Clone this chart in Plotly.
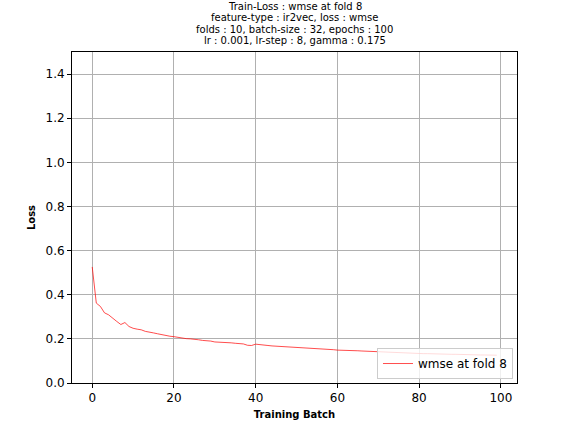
import plotly.graph_objects as go

batches = list(range(100))
loss = [
    0.526, 0.362, 0.347, 0.318, 0.309, 0.292, 0.279, 0.265, 0.274, 0.256,
    0.248, 0.244, 0.241, 0.234, 0.232, 0.227, 0.223, 0.219, 0.214, 0.212,
    0.210, 0.206, 0.203, 0.201, 0.200, 0.199, 0.196, 0.193, 0.192, 0.190,
    0.186, 0.185, 0.184, 0.186, 0.182, 0.180, 0.179, 0.177, 0.171, 0.170,
    0.176, 0.173, 0.171, 0.170, 0.168, 0.167, 0.167, 0.166, 0.165, 0.163,
    0.162, 0.161, 0.160, 0.159, 0.158, 0.157, 0.156, 0.155, 0.153, 0.151,
    0.149, 0.149, 0.148, 0.147, 0.146, 0.146, 0.145, 0.144, 0.143, 0.142,
    0.141, 0.141, 0.140, 0.139, 0.139, 0.137, 0.137, 0.136, 0.135, 0.134,
    0.134, 0.133, 0.133, 0.132, 0.132, 0.131, 0.131, 0.130, 0.130, 0.130,
    0.129, 0.129, 0.128, 0.128, 0.128, 0.127, 0.127, 0.127, 0.126, 0.126,
]
series_name = "wmse at fold 8"
title_lines = [
    "Train-Loss : wmse at fold 8",
    "feature-type : ir2vec, loss : wmse",
    "folds : 10, batch-size : 32, epochs : 100",
    "lr : 0.001, lr-step : 8, gamma : 0.175",
]
x_ticks = [0, 20, 40, 60, 80, 100]
y_ticks = [0.0, 0.2, 0.4, 0.6, 0.8, 1.0, 1.2, 1.4]

FONT = "DejaVu Sans"
W, H = 575, 431
ml, mr, mt, mb = 72, 58, 52, 48

fig = go.Figure()
fig.add_trace(go.Scatter(
    x=batches, y=loss, mode="lines", name=series_name,
    line=dict(color="red", width=0.7),
))

axis_common = dict(
    showline=True, linecolor="black", linewidth=1, mirror=True,
    ticks="outside", ticklen=4, tickwidth=1, tickcolor="black",
    showgrid=True, gridcolor="#b0b0b0", gridwidth=1, zeroline=False,
    tickfont=dict(family=FONT, size=12, color="black"),
)

fig.update_layout(
    width=W, height=H,
    margin=dict(l=ml, r=mr, t=mt, b=mb, autoexpand=False),
    paper_bgcolor="white", plot_bgcolor="white",
    font=dict(family=FONT, color="black"),
    showlegend=True,
    legend=dict(
        x=0.991, y=0.012, xanchor="right", yanchor="bottom",
        bgcolor="rgba(255,255,255,0.8)", bordercolor="#cccccc", borderwidth=1,
        font=dict(family=FONT, size=12, color="black"),
        itemwidth=30, tracegroupgap=0,
    ),
    xaxis=dict(
        range=[-4.95, 103.95], tickvals=x_ticks,
        title=dict(text="<b>Training Batch</b>", font=dict(family=FONT, size=10), standoff=6),
        **axis_common,
    ),
    yaxis=dict(
        range=[0, 1.5], tickvals=y_ticks, tickformat=".1f",
        title=dict(text="<b>Loss</b>", font=dict(family=FONT, size=10), standoff=8),
        **axis_common,
    ),
)

line_ys = [6, 17.5, 29, 40.5]
cx = (ml + (W - mr)) / 2
for txt, yy in zip(title_lines, line_ys):
    fig.add_annotation(
        text=txt, xref="paper", yref="paper", showarrow=False,
        x=(cx - ml) / (W - ml - mr), y=1 + (mt - yy) / (H - mt - mb),
        xanchor="center", yanchor="middle",
        font=dict(family=FONT, size=10, color="black"),
    )

fig.write_html(
    "out.html",
    config={"displayModeBar": False},
    post_script="document.body.style.margin='0';document.body.style.overflow='hidden';",
)
